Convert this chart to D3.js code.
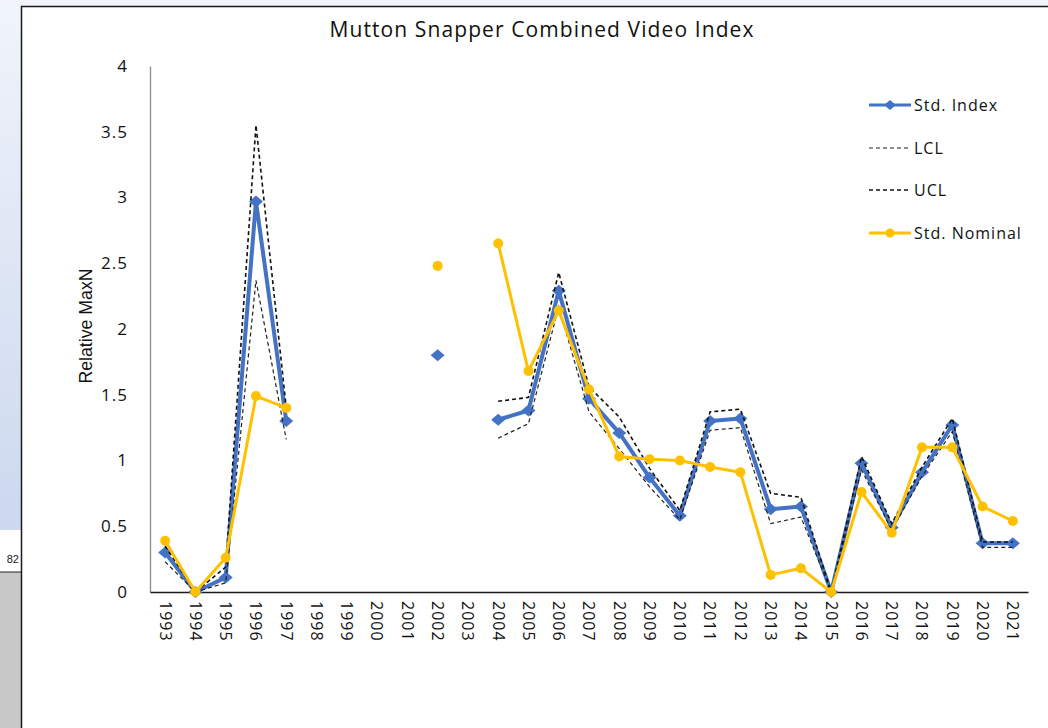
<!DOCTYPE html>
<html>
<head>
	<meta charset="utf-8">
	<title>Mutton Snapper Combined Video Index</title>
	<script src="https://d3js.org/d3.v7.min.js"></script>
	<style>
		body { margin: 0; background: #fff; }
		svg { display: block; }
	</style>
</head>
<body>
	<svg id="chart" width="1048" height="728"></svg>
	<script type="text/javascript">

		var years = ["1993", "1994", "1995", "1996", "1997", "1998", "1999", "2000", "2001", "2002",
			"2003", "2004", "2005", "2006", "2007", "2008", "2009", "2010", "2011", "2012",
			"2013", "2014", "2015", "2016", "2017", "2018", "2019", "2020", "2021"];

		var stdIndex = [0.30, 0.00, 0.11, 2.97, 1.30, null, null, null, null, 1.80,
			null, 1.31, 1.38, 2.29, 1.47, 1.21, 0.87, 0.58, 1.30, 1.32,
			0.63, 0.65, 0.00, 0.98, 0.49, 0.91, 1.27, 0.37, 0.37];

		var lcl = [0.23, 0.00, 0.07, 2.37, 1.16, null, null, null, null, null,
			null, 1.17, 1.28, 2.17, 1.37, 1.09, 0.80, 0.55, 1.23, 1.25,
			0.52, 0.57, 0.00, 0.93, 0.47, 0.88, 1.22, 0.34, 0.34];

		var ucl = [0.35, 0.00, 0.19, 3.55, 1.40, null, null, null, null, null,
			null, 1.45, 1.48, 2.43, 1.56, 1.33, 0.94, 0.62, 1.37, 1.39,
			0.75, 0.72, 0.00, 1.03, 0.52, 0.95, 1.32, 0.38, 0.38];

		var stdNominal = [0.39, 0.00, 0.26, 1.49, 1.40, null, null, null, null, 2.48,
			null, 2.65, 1.68, 2.14, 1.54, 1.03, 1.01, 1.00, 0.95, 0.91,
			0.13, 0.18, 0.00, 0.76, 0.45, 1.10, 1.10, 0.65, 0.54];

		var yTicks = [0, 0.5, 1, 1.5, 2, 2.5, 3, 3.5, 4];

		var svg = d3.select("#chart");

		// page background around the chart (document look)
		var grad = svg.append("defs").append("linearGradient")
			.attr("id", "pageGrad")
			.attr("x1", 0).attr("y1", 0).attr("x2", 0).attr("y2", 1);
		grad.append("stop").attr("offset", "0%").attr("stop-color", "#f1f4fb");
		grad.append("stop").attr("offset", "100%").attr("stop-color", "#cbd8ee");

		svg.append("rect").attr("x", 0).attr("y", 0).attr("width", 1048).attr("height", 530)
			.attr("fill", "url(#pageGrad)");
		svg.append("rect").attr("x", 0).attr("y", 530).attr("width", 22).attr("height", 42)
			.attr("fill", "#fff");
		svg.append("rect").attr("x", 0).attr("y", 572).attr("width", 22).attr("height", 156)
			.attr("fill", "#c8c8c8");
		svg.append("line").attr("x1", 0).attr("x2", 22).attr("y1", 572).attr("y2", 572)
			.attr("stroke", "#222").attr("stroke-width", 1);
		svg.append("text").attr("x", 19).attr("y", 563)
			.attr("text-anchor", "end")
			.attr("font-family", "Liberation Sans, Arial, sans-serif")
			.attr("font-size", "11px").attr("fill", "#222").text("82");

		// chart frame
		svg.append("rect").attr("x", 21.5).attr("y", 6.5).attr("width", 1040).attr("height", 740)
			.attr("fill", "#fff").attr("stroke", "#1a1a1a").attr("stroke-width", 1.5);

		var margin = { left: 150, right: 1028, top: 66, bottom: 592 };

		var x = d3.scaleBand()
			.domain(years)
			.range([margin.left, margin.right]);

		var y = d3.scaleLinear()
			.domain([0, 4])
			.range([margin.bottom, margin.top]);

		var cx = function (i) { return x(years[i]) + x.bandwidth() / 2; };

		// title
		svg.append("text")
			.attr("x", 542).attr("y", 37)
			.attr("text-anchor", "middle")
			.attr("font-family", "Open Sans, sans-serif")
			.attr("font-size", "21px")
			.attr("letter-spacing", "1.1px")
			.attr("fill", "#111")
			.text("Mutton Snapper Combined Video Index");

		// y axis
		var yAxis = svg.append("g")
			.attr("transform", "translate(" + margin.left + ",0)")
			.call(d3.axisLeft(y).tickValues(yTicks).tickSize(0).tickPadding(22)
				.tickFormat(function (d) { return String(d); }));
		yAxis.select(".domain").attr("stroke", "#8c8c8c").attr("stroke-width", 1.3);
		yAxis.selectAll("text")
			.attr("font-family", "Open Sans, sans-serif")
			.attr("font-size", "17px")
			.attr("letter-spacing", "1px")
			.attr("fill", "#111");

		svg.append("text")
			.attr("transform", "translate(92,326) rotate(-90)")
			.attr("text-anchor", "middle")
			.attr("font-family", "Liberation Sans, Arial, sans-serif")
			.attr("font-size", "19px")
			.attr("textLength", 115)
			.attr("lengthAdjust", "spacingAndGlyphs")
			.attr("fill", "#111")
			.text("Relative MaxN");

		// x axis
		var xAxis = svg.append("g")
			.attr("transform", "translate(0," + margin.bottom + ")")
			.call(d3.axisBottom(x).tickSize(0).tickPadding(0));
		xAxis.select(".domain").attr("stroke", "#1a1a1a").attr("stroke-width", 1.5);
		xAxis.selectAll("text")
			.attr("font-family", "Open Sans, sans-serif")
			.attr("font-size", "16px")
			.attr("letter-spacing", "1px")
			.attr("fill", "#111")
			.attr("text-anchor", "start")
			.attr("dy", "0.35em")
			.attr("transform", "translate(0,9) rotate(90)");

		var line = function (vals) {
			return d3.line()
				.defined(function (d) { return d != null; })
				.x(function (d, i) { return cx(i); })
				.y(function (d) { return y(d); })(vals);
		};

		var plot = svg.append("g");

		// Std. Index
		plot.append("path").attr("d", line(stdIndex))
			.attr("fill", "none").attr("stroke", "#4472c4").attr("stroke-width", 4)
			.attr("stroke-linejoin", "round");
		stdIndex.forEach(function (d, i) {
			if (d == null) return;
			plot.append("path")
				.attr("d", "M0,-6L7,0L0,6L-7,0Z")
				.attr("transform", "translate(" + cx(i) + "," + y(d) + ")")
				.attr("fill", "#4472c4");
		});

		// LCL and UCL
		plot.append("path").attr("d", line(lcl))
			.attr("fill", "none").attr("stroke", "#222").attr("stroke-width", 1.2)
			.attr("stroke-dasharray", "4,3");
		plot.append("path").attr("d", line(ucl))
			.attr("fill", "none").attr("stroke", "#111").attr("stroke-width", 1.6)
			.attr("stroke-dasharray", "4,3");

		// Std. Nominal
		plot.append("path").attr("d", line(stdNominal))
			.attr("fill", "none").attr("stroke", "#ffc000").attr("stroke-width", 3)
			.attr("stroke-linejoin", "round");
		stdNominal.forEach(function (d, i) {
			if (d == null) return;
			plot.append("circle")
				.attr("cx", cx(i)).attr("cy", y(d)).attr("r", 5)
				.attr("fill", "#ffc000");
		});

		// legend
		var legend = [
			{ name: "Std. Index", color: "#4472c4", width: 3, dash: null, marker: "diamond", y: 105 },
			{ name: "LCL", color: "#222", width: 1.2, dash: "4,3", marker: null, y: 148 },
			{ name: "UCL", color: "#111", width: 1.6, dash: "4,3", marker: null, y: 190 },
			{ name: "Std. Nominal", color: "#ffc000", width: 3, dash: null, marker: "circle", y: 233 }
		];
		var lg = svg.append("g");
		legend.forEach(function (d) {
			lg.append("line")
				.attr("x1", 869).attr("x2", 911).attr("y1", d.y).attr("y2", d.y)
				.attr("stroke", d.color).attr("stroke-width", d.width)
				.attr("stroke-dasharray", d.dash);
			if (d.marker == "diamond") {
				lg.append("path").attr("d", "M0,-5L6,0L0,5L-6,0Z")
					.attr("transform", "translate(890," + d.y + ")")
					.attr("fill", d.color);
			} else if (d.marker == "circle") {
				lg.append("circle").attr("cx", 890).attr("cy", d.y).attr("r", 4.5)
					.attr("fill", d.color);
			}
			lg.append("text")
				.attr("x", 914).attr("y", d.y).attr("dy", "0.35em")
				.attr("font-family", "Open Sans, sans-serif")
				.attr("font-size", "16px")
				.attr("letter-spacing", "1px")
				.attr("fill", "#111")
				.text(d.name);
		});
	</script>
</body>
</html>
